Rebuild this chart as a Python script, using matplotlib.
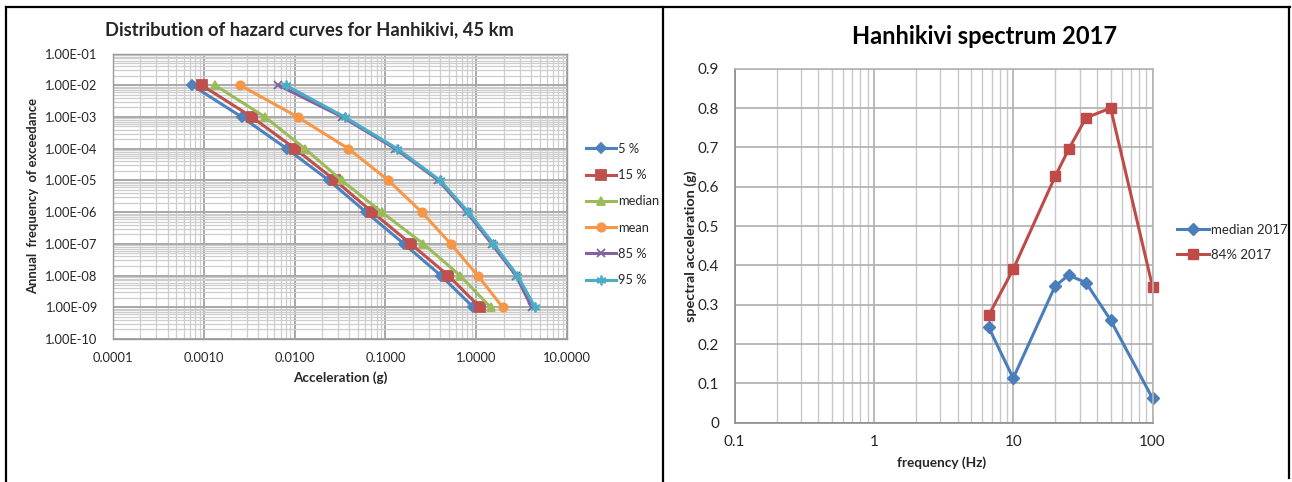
import matplotlib
matplotlib.use("Agg")
import matplotlib.pyplot as plt
from matplotlib.lines import Line2D
from matplotlib.ticker import LogLocator, FixedLocator, NullFormatter, FuncFormatter

plt.rcParams["font.family"] = ["Lato", "DejaVu Sans"]

# --- hazard curves: annual frequency levels and acceleration (g) per fractile ---
freq_levels = [1e-2, 1e-3, 1e-4, 1e-5, 1e-6, 1e-7, 1e-8, 1e-9]
acc_p05 = [0.00074, 0.00261, 0.0082, 0.0239, 0.0611, 0.160, 0.409, 0.93]
acc_p15 = [0.00095, 0.00337, 0.0101, 0.0279, 0.0718, 0.190, 0.493, 1.10]
acc_median = [0.00133, 0.00472, 0.0130, 0.0330, 0.0910, 0.262, 0.664, 1.44]
acc_mean = [0.00251, 0.0108, 0.0391, 0.108, 0.251, 0.524, 1.04, 1.96]
acc_p85 = [0.00663, 0.0334, 0.128, 0.383, 0.786, 1.48, 2.74, 4.08]
acc_p95 = [0.0080, 0.0355, 0.135, 0.400, 0.820, 1.55, 2.85, 4.44]
hazard_labels = ["5 %", "15 %", "median", "mean", "85 %", "95 %"]

# --- spectrum 2017 ---
spec_freq = [6.67, 10, 20, 25, 33.3, 50, 100]
spec_median = [0.2425, 0.113, 0.3475, 0.375, 0.356, 0.261, 0.062]
spec_p84 = [0.273, 0.390, 0.626, 0.695, 0.775, 0.800, 0.346]

W, H = 1292, 482
fig = plt.figure(figsize=(W / 100, H / 100), dpi=100)


def fx(px):
    return px / W


def fy(py):
    return 1 - py / H


GRID_MAJOR = "#a8a8a8"
GRID_MINOR = "#cdcdcd"
TXT = "#262626"

# ---------------- left: hazard curves ----------------
ax1 = fig.add_axes([fx(113), fy(339), fx(567) - fx(113), fy(53.5) - fy(339)])
ax1.set_xscale("log")
ax1.set_yscale("log")
ax1.set_xlim(1e-4, 10)
ax1.set_ylim(1e-10, 1e-1)

ax1.xaxis.set_major_locator(LogLocator(base=10, numticks=20))
ax1.xaxis.set_minor_locator(LogLocator(base=10, subs=range(2, 10), numticks=100))
ax1.yaxis.set_major_locator(LogLocator(base=10, numticks=20))
ax1.yaxis.set_minor_locator(LogLocator(base=10, subs=range(2, 10), numticks=100))
ax1.xaxis.set_major_formatter(FuncFormatter(lambda v, p: f"{v:.4f}"))
ax1.yaxis.set_major_formatter(FuncFormatter(lambda v, p: f"{v:.2E}"))
ax1.xaxis.set_minor_formatter(NullFormatter())
ax1.yaxis.set_minor_formatter(NullFormatter())

ax1.grid(which="major", color=GRID_MAJOR, lw=1.4)
ax1.grid(which="minor", color=GRID_MINOR, lw=0.9)
ax1.set_axisbelow(True)
for s in ax1.spines.values():
    s.set_color("#9a9a9a")
    s.set_linewidth(1.0)
ax1.tick_params(which="both", length=0)
ax1.tick_params(axis="y", labelsize=9.3, pad=11, labelcolor=TXT)
ax1.tick_params(axis="x", labelsize=9.3, pad=9, labelcolor=TXT)

series = [acc_p05, acc_p15, acc_median, acc_mean, acc_p85, acc_p95]
colors = ["#4f81bd", "#c0504d", "#9bbb59", "#f79646", "#8064a2", "#4bacc6"]
markers = ["D", "s", "^", "o", "x", (6, 2, 0)]
msizes = [5, 6.5, 6, 6, 6, 7]
for acc, c, m, ms, lab in zip(series, colors, markers, msizes, hazard_labels):
    ax1.plot(acc, freq_levels, color=c, lw=2.2, marker=m, ms=ms,
             mec=c, mew=1.3, label=lab, clip_on=False)

leg1 = ax1.legend(loc="upper left", bbox_to_anchor=(fx(586), fy(143)),
                  bbox_transform=fig.transFigure, frameon=False, fontsize=9.3,
                  handlelength=2.3, handletextpad=0.2, labelspacing=1.1,
                  borderpad=0, borderaxespad=0)
for t in leg1.get_texts():
    t.set_color(TXT)

fig.text(fx(309), fy(30), "Distribution of hazard curves for Hanhikivi, 45 km",
         ha="center", va="center", fontsize=13.2, fontweight="bold", color=TXT)
fig.text(fx(33), fy(196), "Annual  frequency  of exceedance", rotation=90,
         ha="center", va="center", fontsize=9.4, fontweight="bold", color=TXT)
fig.text(fx(340), fy(378), "Acceleration (g)", ha="center", va="center",
         fontsize=9.7, fontweight="bold", color=TXT)

# ---------------- right: spectrum ----------------
ax2 = fig.add_axes([fx(734.6), fy(422.7), fx(1152.5) - fx(734.6), fy(68.7) - fy(422.7)])
ax2.set_xscale("log")
ax2.set_xlim(0.1, 100)
ax2.set_ylim(0, 0.9)
ax2.xaxis.set_major_locator(FixedLocator([0.1, 1, 10, 100]))
ax2.xaxis.set_minor_locator(LogLocator(base=10, subs=range(2, 10), numticks=100))
ax2.xaxis.set_major_formatter(FuncFormatter(lambda v, p: f"{v:g}"))
ax2.xaxis.set_minor_formatter(NullFormatter())
ax2.yaxis.set_major_locator(FixedLocator([i / 10 for i in range(10)]))
ax2.yaxis.set_major_formatter(FuncFormatter(lambda v, p: "0" if v == 0 else f"{v:.1f}"))

ax2.grid(which="major", color="#b4b4b4", lw=1.3)
ax2.grid(which="minor", axis="x", color="#c8c8c8", lw=1.0)
ax2.set_axisbelow(True)
for s in ax2.spines.values():
    s.set_color("#b4b4b4")
    s.set_linewidth(1.2)
ax2.spines["left"].set_color("#8c8c8c")
ax2.spines["bottom"].set_color("#8c8c8c")
ax2.tick_params(which="both", length=0)
ax2.tick_params(axis="y", labelsize=11, pad=11, labelcolor=TXT)
ax2.tick_params(axis="x", labelsize=11, pad=9, labelcolor=TXT)

ax2.plot(spec_freq, spec_median, color="#4a7ebb", lw=2.2, marker="D", ms=6,
         label="median 2017", clip_on=False)
ax2.plot(spec_freq, spec_p84, color="#be4b48", lw=2.2, marker="s", ms=7.5,
         label="84% 2017", clip_on=False)

leg2 = ax2.legend(loc="upper left", bbox_to_anchor=(fx(1177), fy(224)),
                  bbox_transform=fig.transFigure, frameon=False, fontsize=9.5,
                  handlelength=2.4, handletextpad=0.15, labelspacing=0.95,
                  borderpad=0, borderaxespad=0)
for t in leg2.get_texts():
    t.set_color(TXT)

fig.text(fx(985), fy(36), "Hanhikivi spectrum 2017", ha="center", va="center",
         fontsize=17, fontweight="bold", color="black")
fig.text(fx(691), fy(246), "spectral acceleration (g)", rotation=90,
         ha="center", va="center", fontsize=10.4, fontweight="bold", color=TXT)
fig.text(fx(942), fy(463), "frequency (Hz)", ha="center", va="center",
         fontsize=9.8, fontweight="bold", color=TXT)

# table frame around the two panels
frame = dict(color="black", lw=1.6, transform=fig.transFigure)
fig.add_artist(Line2D([fx(6), fx(1290)], [fy(7), fy(7)], **frame))
fig.add_artist(Line2D([fx(6), fx(6)], [fy(7), fy(482)], **frame))
fig.add_artist(Line2D([fx(663), fx(663)], [fy(7), fy(482)], **frame))
fig.add_artist(Line2D([fx(1289), fx(1289)], [fy(7), fy(478)], **frame))

fig.savefig("out.png", dpi=100)
